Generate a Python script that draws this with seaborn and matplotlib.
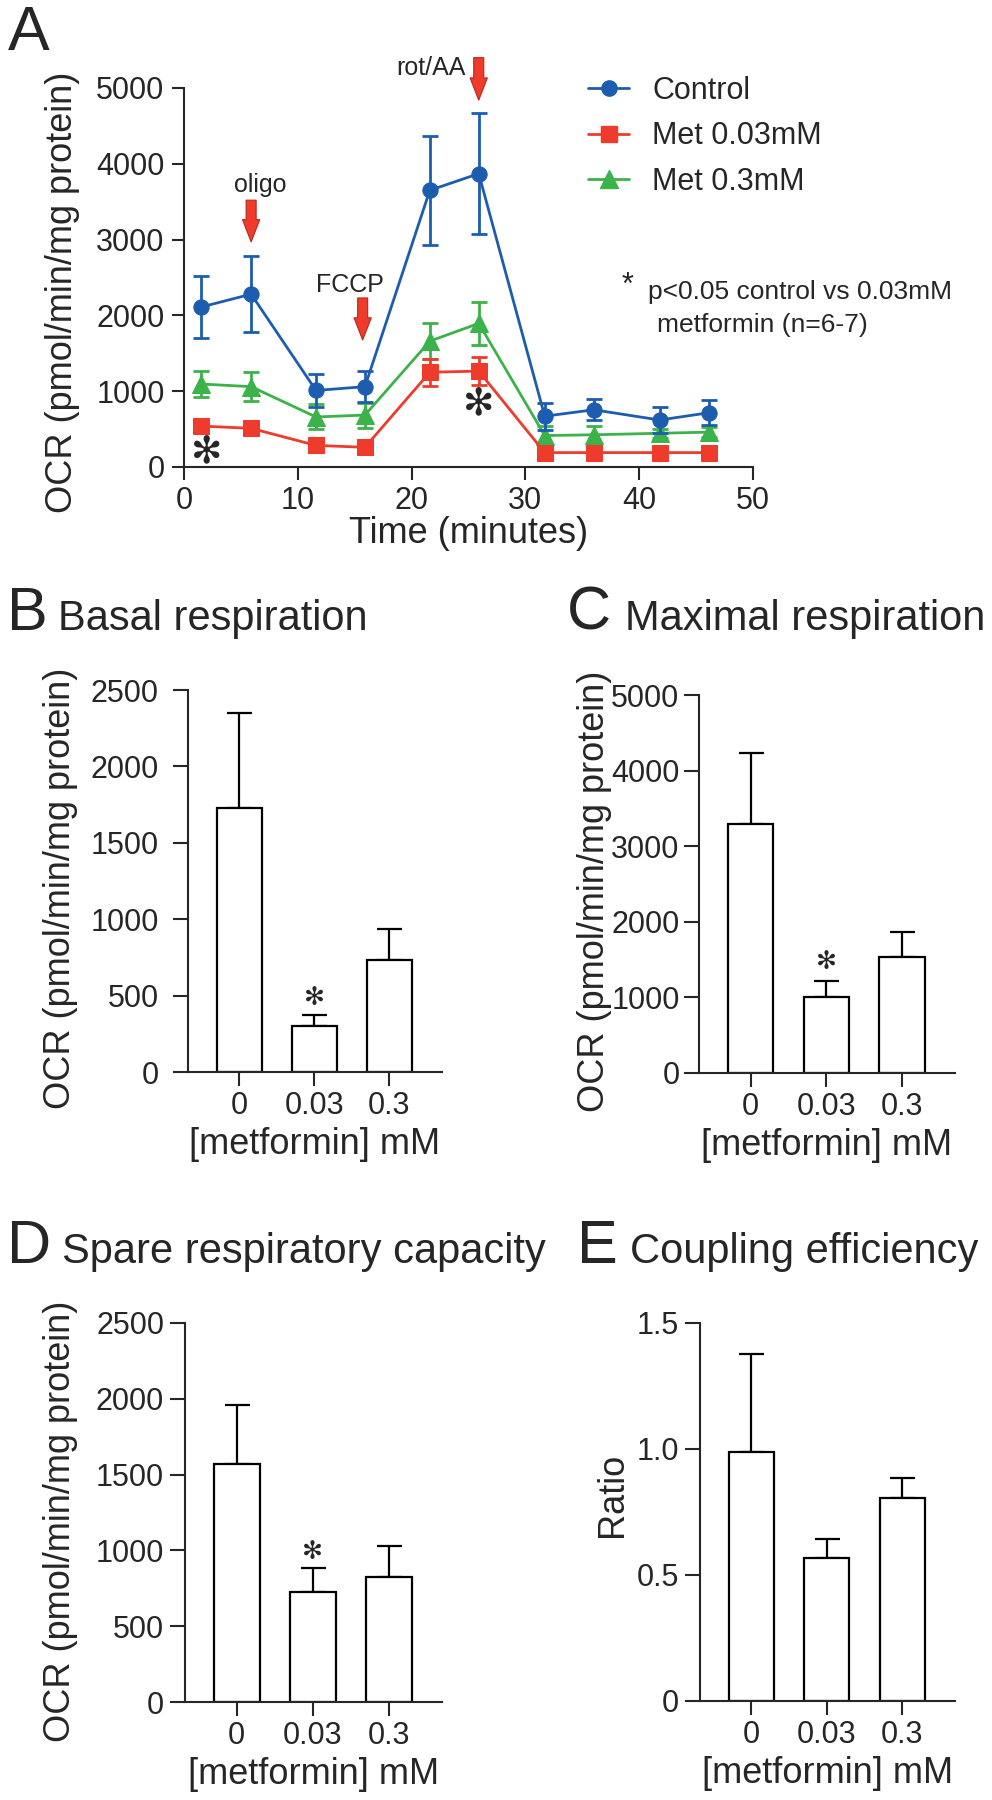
import matplotlib
matplotlib.use("Agg")
import matplotlib.pyplot as plt
from matplotlib.lines import Line2D
import seaborn as sns

sns.set_style("ticks")
plt.rcParams["font.family"] = ["Liberation Sans", "DejaVu Sans"]
plt.rcParams["axes.linewidth"] = 1.5

# ---- panel A: OCR time course (mean +/- SD) ----
time_min = [1.5, 5.9, 11.6, 15.9, 21.6, 25.9, 31.7, 36.0, 41.8, 46.1]
control_mean = [2110, 2280, 1010, 1060, 3650, 3870, 670, 755, 620, 715]
control_sd = [410, 500, 215, 200, 715, 800, 180, 140, 170, 165]
met003_mean = [540, 510, 285, 260, 1250, 1265, 190, 190, 190, 190]
met003_sd = [30, 30, 30, 30, 180, 180, 25, 25, 25, 25]
met03_mean = [1095, 1060, 660, 685, 1660, 1895, 415, 425, 445, 460]
met03_sd = [165, 190, 165, 165, 240, 280, 130, 120, 60, 70]

injections = ["oligo", "FCCP", "rot/AA"]
injection_time = [5.9, 15.7, 25.9]

# ---- panels B-E: summary bars (mean + error) ----
doses = ["0", "0.03", "0.3"]
basal_mean = [1725, 303, 730]
basal_err = [627, 70, 205]
maximal_mean = [3295, 1010, 1540]
maximal_err = [940, 213, 323]
spare_mean = [1568, 726, 825]
spare_err = [394, 160, 202]
coupling_mean = [0.99, 0.568, 0.804]
coupling_err = [0.388, 0.073, 0.079]

BLUE = "#1d5db0"
RED = "#ee3b2c"
GREEN = "#3cb24a"
ARROW = "#ee3b2a"

W, H = 992, 1800
fig = plt.figure(figsize=(W / 100, H / 100), dpi=100)


def add_ax(left, top, right, bottom):
    return fig.add_axes([left / W, 1 - bottom / H, (right - left) / W, (bottom - top) / H])


def panel_title(x_letter, x_text, baseline, letter, text, size=30):
    fig.text(x_letter / W, 1 - baseline / H, letter, fontsize=44, va="baseline", ha="left")
    fig.text(x_text / W, 1 - baseline / H, text, fontsize=size, va="baseline", ha="left")


# ---------------- A ----------------
axA = add_ax(184, 88, 753, 467)
series = [
    ("Met 0.3mM", met03_mean, met03_sd, GREEN, "^", 13, 3),
    ("Met 0.03mM", met003_mean, met003_sd, RED, "s", 11, 4),
    ("Control", control_mean, control_sd, BLUE, "o", 11, 5),
]
for name, mean, sd, color, marker, ms, z in series:
    axA.errorbar(time_min, mean, yerr=sd, fmt="none", ecolor=color,
                 elinewidth=2, capsize=6, capthick=2, zorder=z - 0.5)
    sns.lineplot(x=time_min, y=mean, color=color, marker=marker, markersize=ms,
                 markeredgecolor=color, linewidth=2, ax=axA, zorder=z, legend=False)

axA.set_xlim(0, 50)
axA.set_ylim(0, 5000)
axA.set_xticks([0, 10, 20, 30, 40, 50])
axA.set_yticks([0, 1000, 2000, 3000, 4000, 5000])
axA.tick_params(labelsize=22, length=9, width=1.5, pad=5)
axA.set_xlabel("Time (minutes)", fontsize=26, labelpad=0)
axA.set_ylabel("OCR (pmol/min/mg protein)", fontsize=26)
axA.yaxis.set_label_coords(-(184 - 80) / 569, 0.46)
sns.despine(ax=axA)

# injection arrows
arrow_tail = [3520, 2230, 5400]
arrow_tip = [2970, 1675, 4840]
label_x = [6.7, 14.6, 21.7]
label_y = [3720, 2400, 5260]
for lab, t, tail, tip, lx, ly in zip(injections, injection_time, arrow_tail, arrow_tip, label_x, label_y):
    axA.annotate("", xy=(t, tip), xytext=(t, tail),
                 arrowprops=dict(arrowstyle="simple,head_length=0.8,head_width=0.62,tail_width=0.36",
                                 fc=ARROW, ec="#b8281c", lw=0.8, shrinkA=0, shrinkB=0,
                                 mutation_scale=20))
    axA.text(lx, ly, lab, fontsize=18, ha="center", va="center")

# significance stars in A
axA.text(2.0, 200, "✻", fontsize=27, ha="center", va="center", family="DejaVu Sans", zorder=6)
axA.text(25.9, 830, "✻", fontsize=27, ha="center", va="center", family="DejaVu Sans", zorder=6)

handles = [
    Line2D([], [], color=BLUE, marker="o", markersize=11, lw=2),
    Line2D([], [], color=RED, marker="s", markersize=11, lw=2),
    Line2D([], [], color=GREEN, marker="^", markersize=13, lw=2),
]
fig.legend(handles, ["Control", "Met 0.03mM", "Met 0.3mM"], loc="upper left",
           bbox_to_anchor=(588 / W, 1 - 76 / H), frameon=False, fontsize=22,
           handlelength=1.35, handletextpad=0.75, labelspacing=0.5,
           borderpad=0, borderaxespad=0)

fig.text(628 / W, 1 - 286 / H, "*", fontsize=22, ha="center", va="center")
fig.text(648 / W, 1 - 292 / H, "p<0.05 control vs 0.03mM", fontsize=19, ha="left", va="center")
fig.text(657 / W, 1 - 325 / H, "metformin (n=6-7)", fontsize=19, ha="left", va="center")

fig.text(8 / W, 1 - 50 / H, "A", fontsize=45, va="baseline", ha="left")


# ---------------- bar panels ----------------
def bar_panel(box, means, errs, ylim, yticks, ylabel, ypad, label_px, label_y, star_y=None):
    left, top, right, bottom = box
    ax = add_ax(left, top, right, bottom)
    sns.barplot(x=doses, y=means, order=doses, color="white", edgecolor="black",
                linewidth=1.6, width=0.6, ax=ax, saturation=1)
    ax.errorbar(range(len(doses)), means, yerr=[[0] * len(errs), errs], fmt="none",
                ecolor="black", elinewidth=1.6, capsize=9, capthick=1.6, zorder=0.5)
    ax.set_xlim(-0.68, 2.70)
    ax.set_ylim(*ylim)
    ax.set_yticks(yticks)
    ax.tick_params(axis="y", labelsize=22, length=11, width=1.5, pad=ypad)
    ax.tick_params(axis="x", labelsize=22, length=10, width=1.5, pad=4)
    ax.set_xlabel("[metformin] mM", fontsize=26, labelpad=4)
    ax.set_ylabel(ylabel, fontsize=26)
    ax.yaxis.set_label_coords(-(left - label_px) / (right - left), label_y)
    if star_y is not None:
        ax.text(1, star_y, "✻", fontsize=18, ha="center", va="center", family="DejaVu Sans")
    sns.despine(ax=ax)
    return ax


ocr_label = "OCR (pmol/min/mg protein)"
bar_panel((188, 690, 442, 1072), basal_mean, basal_err, (0, 2500),
          [0, 500, 1000, 1500, 2000, 2500], ocr_label, 10, 78, 0.48, star_y=485)
bar_panel((699, 695, 955, 1073), maximal_mean, maximal_err, (0, 5000),
          [0, 1000, 2000, 3000, 4000, 5000], ocr_label, 3, 612, 0.48, star_y=1474)
bar_panel((185, 1323, 442, 1702), spare_mean, spare_err, (0, 2500),
          [0, 500, 1000, 1500, 2000, 2500], ocr_label, 4, 78, 0.476, star_y=990)
axE = bar_panel((700, 1323, 955, 1701), coupling_mean, coupling_err, (0, 1.5),
                [0, 0.5, 1.0, 1.5], "Ratio", 4, 630, 0.545)
axE.set_yticklabels(["0", "0.5", "1.0", "1.5"])

panel_title(7, 58, 630, "B", "Basal respiration")
panel_title(567, 625, 630, "C", "Maximal respiration")
panel_title(7, 62, 1263, "D", "Spare respiratory capacity")
panel_title(577, 630, 1263, "E", "Coupling efficiency")

fig.savefig("out.png", dpi=100)
